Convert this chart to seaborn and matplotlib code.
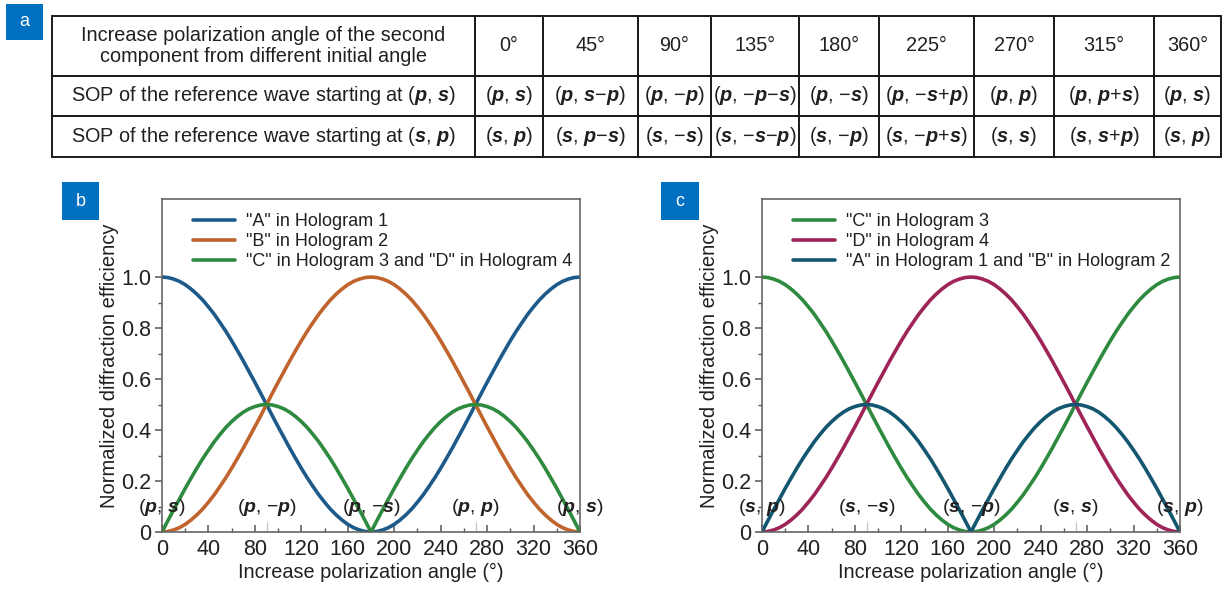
import matplotlib
matplotlib.use("Agg")
import matplotlib.pyplot as plt
import numpy as np
import pandas as pd
import seaborn as sns
from matplotlib.ticker import MultipleLocator, FixedLocator, FuncFormatter
from matplotlib.patches import Rectangle

# ---------------- data (every 5 degrees) ----------------
angles = list(range(0, 361, 5))

# panel b
b_A_holo1 = [1.000, 0.998, 0.992, 0.983, 0.970, 0.953, 0.933, 0.910, 0.883, 0.854, 0.821,
             0.787, 0.750, 0.711, 0.671, 0.629, 0.587, 0.544, 0.500, 0.456, 0.413, 0.371,
             0.329, 0.289, 0.250, 0.213, 0.179, 0.146, 0.117, 0.090, 0.067, 0.047, 0.030,
             0.017, 0.008, 0.002, 0.000, 0.002, 0.008, 0.017, 0.030, 0.047, 0.067, 0.090,
             0.117, 0.146, 0.179, 0.213, 0.250, 0.289, 0.329, 0.371, 0.413, 0.456, 0.500,
             0.544, 0.587, 0.629, 0.671, 0.711, 0.750, 0.787, 0.821, 0.854, 0.883, 0.910,
             0.933, 0.953, 0.970, 0.983, 0.992, 0.998, 1.000]
b_B_holo2 = [0.000, 0.002, 0.008, 0.017, 0.030, 0.047, 0.067, 0.090, 0.117, 0.146, 0.179,
             0.213, 0.250, 0.289, 0.329, 0.371, 0.413, 0.456, 0.500, 0.544, 0.587, 0.629,
             0.671, 0.711, 0.750, 0.787, 0.821, 0.854, 0.883, 0.910, 0.933, 0.953, 0.970,
             0.983, 0.992, 0.998, 1.000, 0.998, 0.992, 0.983, 0.970, 0.953, 0.933, 0.910,
             0.883, 0.854, 0.821, 0.787, 0.750, 0.711, 0.671, 0.629, 0.587, 0.544, 0.500,
             0.456, 0.413, 0.371, 0.329, 0.289, 0.250, 0.213, 0.179, 0.146, 0.117, 0.090,
             0.067, 0.047, 0.030, 0.017, 0.008, 0.002, 0.000]
b_CD_holo34 = [0.000, 0.044, 0.087, 0.129, 0.171, 0.211, 0.250, 0.287, 0.321, 0.354, 0.383,
               0.410, 0.433, 0.453, 0.470, 0.483, 0.492, 0.498, 0.500, 0.498, 0.492, 0.483,
               0.470, 0.453, 0.433, 0.410, 0.383, 0.354, 0.321, 0.287, 0.250, 0.211, 0.171,
               0.129, 0.087, 0.044, 0.000, 0.044, 0.087, 0.129, 0.171, 0.211, 0.250, 0.287,
               0.321, 0.354, 0.383, 0.410, 0.433, 0.453, 0.470, 0.483, 0.492, 0.498, 0.500,
               0.498, 0.492, 0.483, 0.470, 0.453, 0.433, 0.410, 0.383, 0.354, 0.321, 0.287,
               0.250, 0.211, 0.171, 0.129, 0.087, 0.044, 0.000]

# panel c (same shapes)
c_C_holo3 = list(b_A_holo1)
c_D_holo4 = list(b_B_holo2)
c_AB_holo12 = list(b_CD_holo34)

b_labels = ['"A" in Hologram 1', '"B" in Hologram 2', '"C" in Hologram 3 and "D" in Hologram 4']
c_labels = ['"C" in Hologram 3', '"D" in Hologram 4', '"A" in Hologram 1 and "B" in Hologram 2']
b_colors = ["#1d5a8a", "#c0632c", "#2e8a3e"]
c_colors = ["#2e8a3e", "#9e2458", "#125670"]

sop_angles = [0, 90, 180, 270, 360]
b_sop_marks = ["(p, s)", "(p, −p)", "(p, −s)", "(p, p)", "(p, s)"]
c_sop_marks = ["(s, p)", "(s, −s)", "(s, −p)", "(s, s)", "(s, p)"]

yticks_major = [0, 0.2, 0.4, 0.6, 0.8, 1.0]
yticks_minor = [0.1, 0.3, 0.5, 0.7, 0.9]

# table (panel a)
table_header = ["Increase polarization angle of the second\ncomponent from different initial angle",
                "0°", "45°", "90°", "135°", "180°", "225°", "270°", "315°", "360°"]
table_row_ps = ["SOP of the reference wave starting at (p, s)",
                "(p, s)", "(p, s−p)", "(p, −p)", "(p, −p−s)", "(p, −s)", "(p, −s+p)",
                "(p, p)", "(p, p+s)", "(p, s)"]
table_row_sp = ["SOP of the reference wave starting at (s, p)",
                "(s, p)", "(s, p−s)", "(s, −s)", "(s, −s−p)", "(s, −p)", "(s, −p+s)",
                "(s, s)", "(s, s+p)", "(s, p)"]
table_col_widths = [423, 68, 95, 73, 88, 80, 95, 80, 100, 67]
table_row_heights = [60, 41, 41]

# ---------------- style ----------------
sns.set_theme(style="ticks")
TXT = "#231f20"
plt.rcParams["font.family"] = ["Liberation Sans", "DejaVu Sans"]
plt.rcParams["mathtext.fontset"] = "custom"
plt.rcParams["mathtext.rm"] = "Liberation Sans"
plt.rcParams["mathtext.it"] = "Liberation Sans:italic"
plt.rcParams["mathtext.bf"] = "Liberation Sans:bold"
try:
    plt.rcParams["mathtext.bfit"] = "Liberation Sans:bold:italic"
    BFIT = r"\mathbfit"
except KeyError:
    BFIT = r"\boldsymbol"
plt.rcParams["text.color"] = TXT
plt.rcParams["axes.labelcolor"] = TXT
plt.rcParams["xtick.color"] = "#555555"
plt.rcParams["ytick.color"] = "#555555"
plt.rcParams["xtick.labelcolor"] = TXT
plt.rcParams["ytick.labelcolor"] = TXT


def fmt(s):
    return "".join(f"${BFIT}{{{ch}}}$" if ch in "ps" else ch for ch in s)


W, H = 1224, 590
fig = plt.figure(figsize=(W / 100, H / 100), dpi=100)


def px_axes(x0, y0, x1, y1):
    return fig.add_axes([x0 / W, 1 - y1 / H, (x1 - x0) / W, (y1 - y0) / H])


def panel_tag(x0, y0, x1, y1, letter):
    fig.patches.append(Rectangle((x0 / W, 1 - y1 / H), (x1 - x0) / W, (y1 - y0) / H,
                                 transform=fig.transFigure, facecolor="#0070c0",
                                 edgecolor="none", zorder=5))
    fig.text((x0 + x1) / 2 / W, 1 - (y0 + y1) / 2 / H, letter, color="white",
             ha="center", va="center", fontsize=13, zorder=6)


# ---------------- table ----------------
ax_t = px_axes(52, 16, 1221, 157)
ax_t.axis("off")
cell_text = [table_header,
             [table_row_ps[0].replace("(p, s)", fmt("(p, s)"))] + [fmt(v) for v in table_row_ps[1:]],
             [table_row_sp[0].replace("(s, p)", fmt("(s, p)"))] + [fmt(v) for v in table_row_sp[1:]]]
tot = sum(table_col_widths)
tbl = ax_t.table(cellText=cell_text, colWidths=[w / tot for w in table_col_widths],
                 cellLoc="center", bbox=[0, 0, 1, 1])
tbl.auto_set_font_size(False)
for (r, c), cell in tbl.get_celld().items():
    cell.set_height(table_row_heights[r])
    cell.set_edgecolor("#1a1a1a")
    cell.set_linewidth(1.4)
    cell.get_text().set_fontsize(14.3)
    cell.get_text().set_color(TXT)
    cell.get_text().set_linespacing(1.1)
panel_tag(6, 4, 43, 40, "a")


# ---------------- line panels ----------------
def line_panel(ax, series, labels, colors, marks):
    df = pd.concat([pd.DataFrame({"angle": angles, "eff": vals, "series": lab})
                    for vals, lab in zip(series, labels)], ignore_index=True)
    sns.lineplot(data=df, x="angle", y="eff", hue="series", hue_order=labels,
                 palette=colors, linewidth=2.6, legend=False, ax=ax, sort=True)
    handles = ax.get_lines()[:3]
    ax.legend(handles, labels, loc="upper left", frameon=False, fontsize=13,
              handlelength=2.3, handletextpad=0.6, labelspacing=0.15,
              borderaxespad=0.4, bbox_to_anchor=(0.04, 1.0))
    ax.set_xlim(0, 360)
    ax.set_ylim(0, 1.306)
    ax.xaxis.set_major_locator(MultipleLocator(40))
    ax.xaxis.set_minor_locator(MultipleLocator(20))
    ax.yaxis.set_major_locator(FixedLocator(yticks_major))
    ax.yaxis.set_minor_locator(FixedLocator(yticks_minor))
    ax.yaxis.set_major_formatter(FuncFormatter(lambda v, p: "0" if v == 0 else f"{v:.1f}"))
    ax.tick_params(axis="x", which="major", direction="in", length=5, width=1.1,
                   labelsize=15.5, pad=5)
    ax.tick_params(axis="x", which="minor", direction="in", length=3, width=1.0)
    ax.tick_params(axis="y", which="major", direction="out", length=5, width=1.1,
                   labelsize=15.5, pad=3)
    ax.tick_params(axis="y", which="minor", direction="out", length=3, width=1.0)
    for sp in ax.spines.values():
        sp.set_visible(True)
        sp.set_color("#666666")
        sp.set_linewidth(1.2)
    ax.set_xlabel("Increase polarization angle (°)", fontsize=14.3, labelpad=2)
    ax.set_ylabel("Normalized diffraction efficiency", fontsize=14.5, labelpad=1)
    ax.vlines([sop_angles[1], sop_angles[3]], 0, 0.04, color="#c8c8c8", lw=1.0, zorder=1)
    for a, m in zip(sop_angles, marks):
        ax.text(a, 0.098, fmt(m), ha="center", va="center", fontsize=14, zorder=10,
                clip_on=False)


ax_b = px_axes(162, 199, 580, 532)
line_panel(ax_b, [b_A_holo1, b_B_holo2, b_CD_holo34], b_labels, b_colors, b_sop_marks)
panel_tag(62, 182, 99, 220, "b")

ax_c = px_axes(762, 199, 1180, 532)
line_panel(ax_c, [c_C_holo3, c_D_holo4, c_AB_holo12], c_labels, c_colors, c_sop_marks)
panel_tag(661, 182, 699, 220, "c")

fig.savefig("out.png", dpi=100)
